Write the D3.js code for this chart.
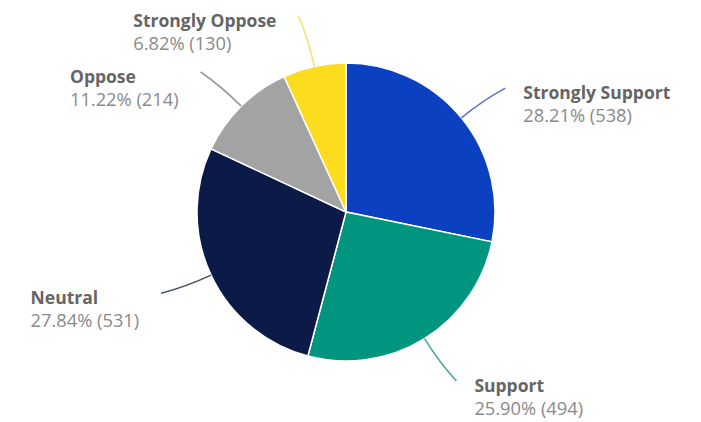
<!DOCTYPE html>
<html>
<head>
<meta charset="utf-8">
<script src="https://cdn.jsdelivr.net/npm/d3@7"></script>
<style>
  body { margin: 0; background: #fff; }
  text { font-family: "Open Sans", "Noto Sans", sans-serif; }
</style>
</head>
<body>
<svg id="chart" width="701" height="422"></svg>
<script>
// survey answers, clockwise from 12 o'clock
const categories = ['Strongly Support', 'Support', 'Neutral', 'Oppose', 'Strongly Oppose'];
const percents = [28.21, 25.90, 27.84, 11.22, 6.82];
const counts = [538, 494, 531, 214, 130];
const colors = ['#0b40c0', '#00957e', '#0b1a47', '#a3a3a3', '#fcdc1f'];
const lineColors = ['#5f74c4', '#4aa896', '#454d68', '#9a9a9a', '#f2e27a'];

const width = 701, height = 422;
const cx = 346, cy = 212;
const radius = 149;
const leader = 53;

let data = categories.map((c, i) => ({ name: c, pct: percents[i], count: counts[i], color: colors[i], line: lineColors[i] }));

let svg = d3.select('#chart');
let g = svg.append('g').attr('transform', 'translate(' + cx + ',' + cy + ')');

let pie = d3.pie().sort(null).value((d) => d.count);
let arcs = pie(data);

let arc = d3.arc().innerRadius(0).outerRadius(radius);

g.selectAll('.slice')
  .data(arcs)
  .enter()
  .append('path')
  .attr('class', 'slice')
  .attr('d', arc)
  .attr('fill', (d) => d.data.color)
  .attr('stroke', '#fff')
  .attr('stroke-width', 1.5);

arcs.forEach((d) => {
  let mid = (d.startAngle + d.endAngle) / 2;
  let right = Math.sin(mid) >= 0;
  let p0 = [radius * Math.sin(mid), -radius * Math.cos(mid)];

  // leader leaves radially, then bends a little toward horizontal
  let elev = Math.atan2(-p0[1], Math.abs(p0[0]));
  let bent = elev - Math.sign(elev) * 0.09;
  let dir = [(right ? 1 : -1) * Math.cos(bent), -Math.sin(bent)];
  let p2 = [p0[0] + leader * dir[0], p0[1] + leader * dir[1]];
  let p1 = [p0[0] + 28 * Math.sin(mid), p0[1] - 28 * Math.cos(mid)];

  let path = d3.path();
  path.moveTo(p0[0], p0[1]);
  path.quadraticCurveTo(p1[0], p1[1], p2[0], p2[1]);

  g.append('path')
    .attr('d', path.toString())
    .attr('fill', 'none')
    .attr('stroke', d.data.line)
    .attr('stroke-width', 1.6);

  let label = g.append('g');
  let title = label.append('text')
    .attr('y', 0)
    .attr('font-size', 17.5)
    .attr('font-weight', 'bold')
    .attr('fill', '#656565')
    .text(d.data.name);
  let value = label.append('text')
    .attr('y', 23)
    .attr('font-size', 18.3)
    .attr('fill', '#8a8a8a')
    .text(d.data.pct.toFixed(2) + '% (' + d.data.count + ')');

  let w = Math.max(title.node().getComputedTextLength(), value.node().getComputedTextLength());
  let x = right ? p2[0] + 18 : p2[0] - 22 - w;
  label.attr('transform', 'translate(' + x + ',' + (p2[1] + 11) + ')');
});
</script>
</body>
</html>
